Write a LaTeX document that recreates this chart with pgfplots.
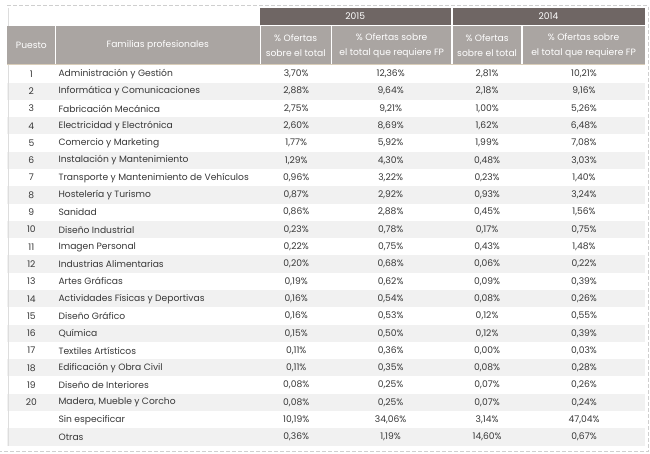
\documentclass[border=0pt]{standalone}
\usepackage{pgfplots}
\pgfplotsset{compat=1.18}
\usepackage{pgfplotstable}
\usepackage{fontspec}
\setmainfont{Poppins}
\definecolor{hdark}{HTML}{6F6664}
\definecolor{hlight}{HTML}{AAA5A2}
\definecolor{rowgray}{HTML}{F1F1F1}
\definecolor{beige}{HTML}{D9CDB9}
\definecolor{txt}{HTML}{383838}
\definecolor{dashc}{HTML}{CFCFCF}
\newcommand{\fs}{\fontsize{9.2}{15}\selectfont}

\pgfplotstableread[col sep=semicolon]{
row;puesto;familia;a;b;c;d
1;1;Administración y Gestión;3,70\%;12,36\%;2,81\%;10,21\%
2;2;Informática y Comunicaciones;2,88\%;9,64\%;2,18\%;9,16\%
3;3;Fabricación Mecánica;2,75\%;9,21\%;1,00\%;5,26\%
4;4;Electricidad y Electrónica;2,60\%;8,69\%;1,62\%;6,48\%
5;5;Comercio y Marketing;1,77\%;5,92\%;1,99\%;7,08\%
6;6;Instalación y Mantenimiento;1,29\%;4,30\%;0,48\%;3,03\%
7;7;Transporte y Mantenimiento de Vehículos;0,96\%;3,22\%;0,23\%;1,40\%
8;8;Hostelería y Turismo;0,87\%;2,92\%;0,93\%;3,24\%
9;9;Sanidad;0,86\%;2,88\%;0,45\%;1,56\%
10;10;Diseño Industrial;0,23\%;0,78\%;0,17\%;0,75\%
11;11;Imagen Personal;0,22\%;0,75\%;0,43\%;1,48\%
12;12;Industrias Alimentarias;0,20\%;0,68\%;0,06\%;0,22\%
13;13;Artes Gráficas;0,19\%;0,62\%;0,09\%;0,39\%
14;14;Actividades Físicas y Deportivas;0,16\%;0,54\%;0,08\%;0,26\%
15;15;Diseño Gráfico;0,16\%;0,53\%;0,12\%;0,55\%
16;16;Química;0,15\%;0,50\%;0,12\%;0,39\%
17;17;Textiles Artísticos;0,11\%;0,36\%;0,00\%;0,03\%
18;18;Edificación y Obra Civil;0,11\%;0,35\%;0,08\%;0,28\%
19;19;Diseño de Interiores;0,08\%;0,25\%;0,07\%;0,26\%
20;20;Madera, Mueble y Corcho;0,08\%;0,25\%;0,07\%;0,24\%
21;{};Sin especificar;10,19\%;34,06\%;3,14\%;47,04\%
22;{};Otras;0,36\%;1,19\%;14,60\%;0,67\%
}\datatable

\pgfplotsset{
  cell/.style={draw=none, mark=none, nodes near coords, point meta=explicit symbolic,
    nodes near coords style={anchor=center, inner sep=0pt, text=txt, font=\fs}},
}

\begin{document}
\begin{tikzpicture}
\begin{axis}[
  scale only axis, width=650bp, height=454bp,
  xmin=0, xmax=650, ymin=0, ymax=454, y dir=reverse,
  hide axis, clip=false,
]
\path[fill=white] (axis cs:0,0) rectangle (axis cs:650,454);
% dashed frame
\draw[dashc, dash pattern=on 4bp off 2bp, line width=0.8bp] (axis cs:7,5.5) -- (axis cs:648,5.5) -- (axis cs:648,452) -- (axis cs:0,452);
% alternating rows
\pgfplotsinvokeforeach{2,4,...,22}{
  \fill[rowgray] (axis cs:7,{65.3+17.3*(#1-1)}) rectangle (axis cs:645,{65.3+17.3*#1});
}
% left edge line
\draw[dashc!70, line width=0.6bp] (axis cs:7.5,8) -- (axis cs:7.5,446);
% header: dark bar
\fill[hdark] (axis cs:260,8) rectangle (axis cs:645,25);
% header light row
\fill[hlight] (axis cs:7,26) rectangle (axis cs:645,64.5);
\fill[beige] (axis cs:7,64.3) rectangle (axis cs:645,65.5);
% white separators
\pgfplotsinvokeforeach{55,260,331,452,522}{
  \draw[white, line width=1.4bp] (axis cs:#1,26) -- (axis cs:#1,64.3);
}
\draw[white, line width=1.4bp] (axis cs:452,8) -- (axis cs:452,25);
\draw[white, line width=1.2bp] (axis cs:260,25.5) -- (axis cs:645,25.5);
% header texts
\node[text=white, font=\fs] at (axis cs:355,16.5) {2015};
\node[text=white, font=\fs] at (axis cs:548.5,16.5) {2014};
\node[text=white, font=\fs] at (axis cs:31,45) {Puesto};
\node[text=white, font=\fs] at (axis cs:157.5,45) {Familias profesionales};
\node[text=white, font=\fs, align=center, inner sep=0pt] at (axis cs:295.5,45.5) {\% Ofertas\\sobre el total};
\node[text=white, font=\fs, align=center, inner sep=0pt] at (axis cs:391.5,45.5) {\% Ofertas sobre\\el total que requiere FP};
\node[text=white, font=\fs, align=center, inner sep=0pt] at (axis cs:487,45.5) {\% Ofertas\\sobre el total};
\node[text=white, font=\fs, align=center, inner sep=0pt] at (axis cs:583.5,45.5) {\% Ofertas sobre\\el total que requiere FP};
% body cells
\addplot[cell] table[x expr=31, y expr={74+17.3*(\thisrow{row}-1)}, meta=puesto] {\datatable};
\addplot[cell, nodes near coords style={anchor=west}] table[x expr=58, y expr={74+17.3*(\thisrow{row}-1)}, meta=familia] {\datatable};
\addplot[cell] table[x expr=296, y expr={74+17.3*(\thisrow{row}-1)}, meta=a] {\datatable};
\addplot[cell] table[x expr=390.5, y expr={74+17.3*(\thisrow{row}-1)}, meta=b] {\datatable};
\addplot[cell] table[x expr=487, y expr={74+17.3*(\thisrow{row}-1)}, meta=c] {\datatable};
\addplot[cell] table[x expr=584, y expr={74+17.3*(\thisrow{row}-1)}, meta=d] {\datatable};
\end{axis}
\end{tikzpicture}
\end{document}
